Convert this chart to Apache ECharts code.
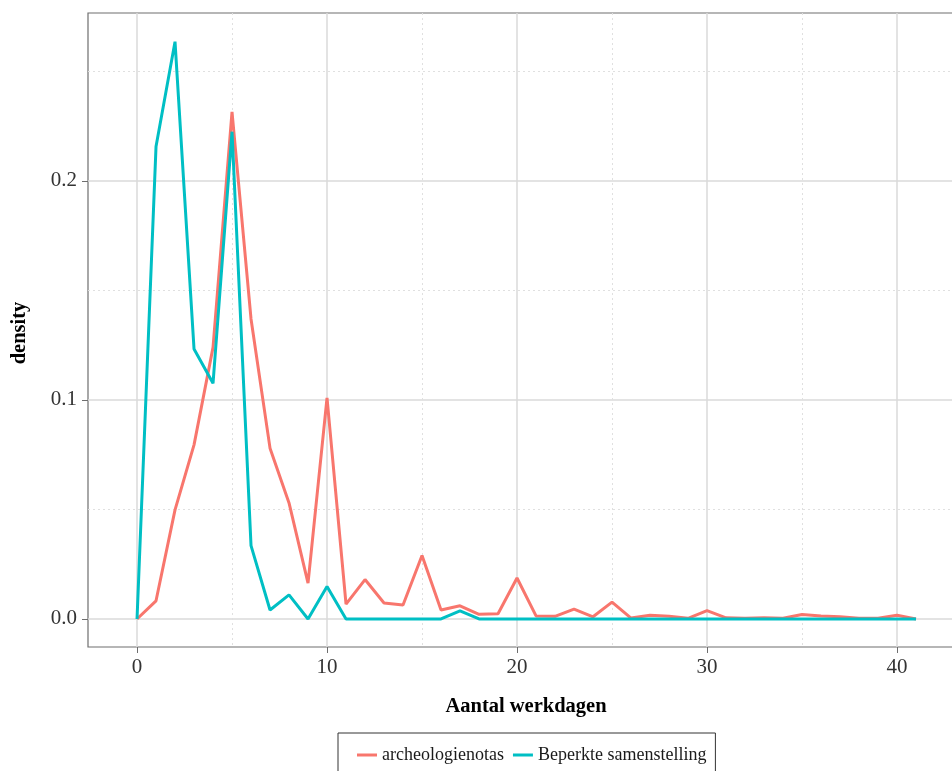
<!DOCTYPE html>
<html>
<head>
<meta charset="utf-8">
<script src="https://cdn.jsdelivr.net/npm/echarts@6/dist/echarts.min.js"></script>
<style>html,body{margin:0;padding:0;background:#fff;}#c{width:952px;height:771px;}</style>
</head>
<body>
<div id="c"></div>
<script>
var xDays = [];
for (var i = 0; i <= 41; i++) xDays.push(i);
var archeologienotas = [0, 0.0083, 0.0498, 0.0795, 0.124, 0.2315, 0.137, 0.078, 0.053, 0.0164,
  0.101, 0.0068, 0.018, 0.0073, 0.0064, 0.029, 0.0041, 0.006, 0.0021, 0.0024,
  0.0187, 0.0014, 0.0012, 0.0045, 0.001, 0.0077, 0.0004, 0.0017, 0.0012, 0.0003,
  0.0038, 0.0005, 0.0003, 0.0005, 0.0003, 0.002, 0.0014, 0.001, 0.0003, 0.0003,
  0.0017, 0];
var beperkte = [0, 0.2157, 0.2636, 0.1233, 0.1076, 0.2225, 0.0335, 0.0041, 0.011, 0,
  0.0148, 0, 0, 0, 0, 0, 0, 0.0037, 0, 0,
  0, 0, 0, 0, 0, 0, 0, 0, 0, 0,
  0, 0, 0, 0, 0, 0, 0, 0, 0, 0,
  0, 0];
var xMajorTicks = [0, 10, 20, 30, 40, 50];
var xMinorTicks = [5, 15, 25, 35, 45];
var yMajorTicks = [0, 0.1, 0.2];
var yMinorTicks = [0.05, 0.15, 0.25];
var seriesNames = ['archeologienotas', 'Beperkte samenstelling'];
var colors = ['#F8766D', '#00BFC4'];

var FONT = '"Liberation Serif", "DejaVu Serif", serif';
var xMin = -2.58, xMax = -2.58 + 1100 / 19;
var yMin = -0.0128, yMax = 0.2767;

function pairs(vals) { return xDays.map(function (d, i) { return [d, vals[i]]; }); }

var chart = echarts.init(document.getElementById('c'), null, { renderer: 'canvas' });
chart.setOption({
  backgroundColor: '#fff',
  animation: false,
  textStyle: { fontFamily: FONT },
  grid: { left: 88, top: 13, width: 1100, height: 634, outerBoundsMode: 'none', containLabel: false,
    show: true, borderColor: '#6e6e6e', borderWidth: 1.2, backgroundColor: 'transparent' },
  xAxis: [{
    type: 'value', min: xMin, max: xMax,
    axisLine: { show: false, onZero: false },
    axisTick: { show: true, length: 6, lineStyle: { color: '#6e6e6e', width: 1 }, customValues: xMajorTicks },
    axisLabel: { customValues: xMajorTicks, color: '#333', fontSize: 21, fontFamily: FONT, margin: 10 },
    splitLine: { show: true, lineStyle: { color: '#dadada', width: 1.5 } }
  }, {
    type: 'value', min: xMin, max: xMax, position: 'bottom',
    axisLine: { show: false, onZero: false },
    axisTick: { show: false, customValues: xMinorTicks },
    axisLabel: { show: false, customValues: xMinorTicks },
    splitLine: { show: true, lineStyle: { color: '#e0e0e0', width: 1, type: [2, 3] } }
  }],
  yAxis: [{
    type: 'value', min: yMin, max: yMax,
    axisLine: { show: false, onZero: false },
    axisTick: { show: true, length: 6, lineStyle: { color: '#6e6e6e', width: 1 }, customValues: yMajorTicks },
    axisLabel: { customValues: yMajorTicks, color: '#333', fontSize: 21, fontFamily: FONT, margin: 11,
      formatter: function (v) { return v.toFixed(1); } },
    splitLine: { show: true, lineStyle: { color: '#dadada', width: 1.5 } }
  }, {
    type: 'value', min: yMin, max: yMax, position: 'left',
    axisLine: { show: false, onZero: false },
    axisTick: { show: false, customValues: yMinorTicks },
    axisLabel: { show: false, customValues: yMinorTicks },
    splitLine: { show: true, lineStyle: { color: '#e0e0e0', width: 1, type: [2, 3] } }
  }],
  legend: {
    left: 338, top: 733,
    data: seriesNames,
    icon: 'rect', itemWidth: 20, itemHeight: 3, itemGap: 9,
    padding: [13, 9, 13, 19],
    borderColor: '#333', borderWidth: 1, borderRadius: 0,
    textStyle: { fontFamily: FONT, fontSize: 18, color: '#1a1a1a' }
  },
  graphic: [
    { type: 'text', x: 526, y: 707, style: { text: 'Aantal werkdagen', font: 'bold 20.5px ' + FONT, fill: '#000', align: 'center', verticalAlign: 'middle' } },
    { type: 'text', rotation: Math.PI / 2, x: 20, y: 333, style: { text: 'density', font: 'bold 20.5px ' + FONT, fill: '#000', align: 'center', verticalAlign: 'middle' } }
  ],
  series: [{
    name: seriesNames[0], type: 'line', data: pairs(archeologienotas),
    symbol: 'none', lineStyle: { color: colors[0], width: 3 }, itemStyle: { color: colors[0] }, z: 3
  }, {
    name: seriesNames[1], type: 'line', data: pairs(beperkte),
    symbol: 'none', lineStyle: { color: colors[1], width: 3 }, itemStyle: { color: colors[1] }, z: 4
  }]
});
</script>
</body>
</html>
